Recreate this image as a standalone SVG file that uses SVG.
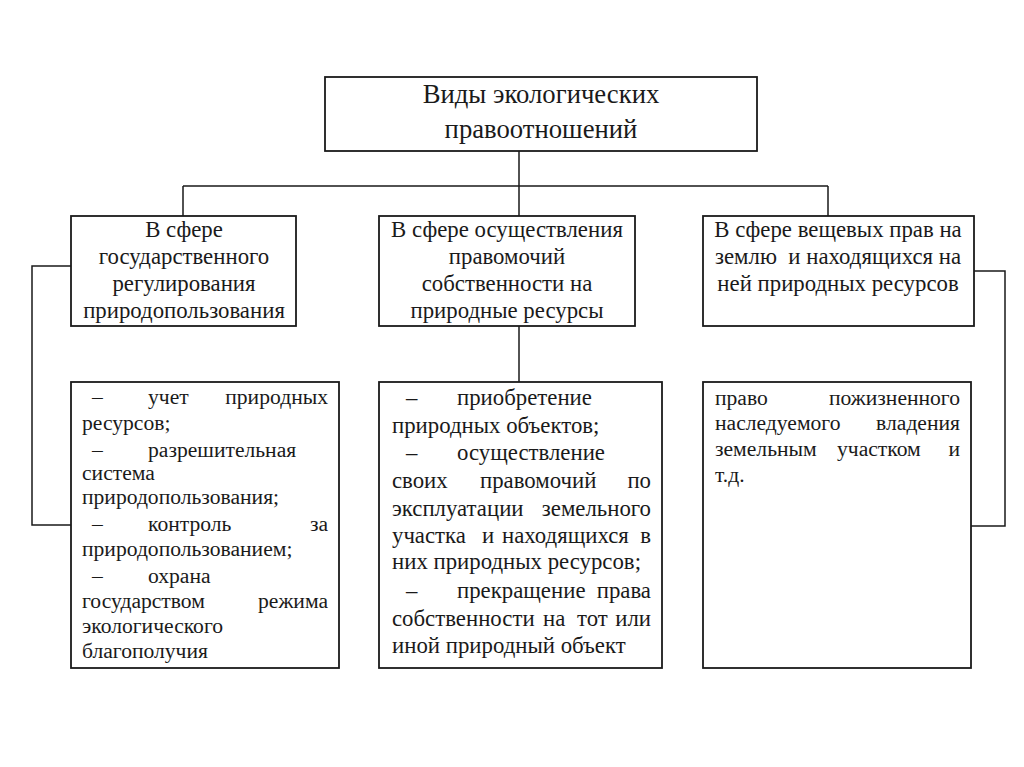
<svg xmlns="http://www.w3.org/2000/svg" width="1024" height="767" viewBox="0 0 1024 767">
<style>
.box{fill:#fff;stroke:#1a1a1a;stroke-width:1.8}
.con{fill:none;stroke:#1a1a1a;stroke-width:1.5}
text{font-family:"Liberation Serif","Times New Roman",serif;fill:#1a1a1a;font-size:22.8px}
.t{font-size:26.7px}
.s{font-size:21.6px}
.c{text-anchor:middle}
.e{text-anchor:end}
</style>
<rect width="1024" height="767" fill="#fff"/>
<g id="connectors">
<path class="con" d="M519 151V186M183 186H828M183 186V216M519 186V216M828 186V216"/>
<path class="con" d="M519 326V383"/>
<path class="con" d="M71 266H32V525H72"/>
<path class="con" d="M974 271H1005V526H971"/>
</g>
<g id="root">
<rect class="box" x="325" y="77" width="432" height="74"/>
<text class="t c" x="541" y="103">Виды экологических</text>
<text class="t c" x="541" y="138">правоотношений</text>
</g>
<g id="n1">
<rect class="box" x="71" y="216" width="225" height="110"/>
<text class="c" x="184" y="237">В сфере</text>
<text class="c" x="184" y="264">государственного</text>
<text class="c" x="184" y="291">регулирования</text>
<text class="c" x="184" y="318">природопользования</text>
</g>
<g id="n2">
<rect class="box" x="379" y="216" width="256" height="110"/>
<text class="c" x="507" y="237">В сфере осуществления</text>
<text class="c" x="507" y="264">правомочий</text>
<text class="c" x="507" y="291">собственности на</text>
<text class="c" x="507" y="318">природные ресурсы</text>
</g>
<g id="n3">
<rect class="box" x="703" y="216" width="271" height="110"/>
<text class="c" x="838" y="237">В сфере вещевых прав на</text>
<text class="c" x="838" y="264" xml:space="preserve">землю  и находящихся на</text>
<text class="c" x="838" y="291">ней природных ресурсов</text>
</g>
<g id="d1">
<rect class="box" x="71" y="382" width="268" height="286"/>
<text class="s" x="92" y="404">–</text><text class="s" x="148" y="404">учет</text><text class="s e" x="328" y="404">природных</text>
<text class="s" x="82" y="430">ресурсов;</text>
<text class="s" x="92" y="457">–</text><text class="s" x="148" y="457">разрешительная</text>
<text class="s" x="82" y="480">система</text>
<text class="s" x="82" y="504">природопользования;</text>
<text class="s" x="92" y="531">–</text><text class="s" x="148" y="531">контроль</text><text class="s e" x="328" y="531">за</text>
<text class="s" x="82" y="556">природопользованием;</text>
<text class="s" x="92" y="583">–</text><text class="s" x="148" y="583">охрана</text>
<text class="s" x="82" y="608">государством</text><text class="s e" x="328" y="608">режима</text>
<text class="s" x="82" y="633">экологического</text>
<text class="s" x="82" y="658">благополучия</text>
</g>
<g id="d2">
<rect class="box" x="379" y="382" width="283" height="286"/>
<text x="406" y="405">–</text><text x="457" y="405">приобретение</text>
<text x="392" y="433">природных объектов;</text>
<text x="406" y="460">–</text><text x="457" y="460">осуществление</text>
<text x="392" y="488">своих</text><text x="480" y="488">правомочий</text><text class="e" x="651" y="488">по</text>
<text x="392" y="516">эксплуатации</text><text class="e" x="651" y="516">земельного</text>
<text x="392" y="543">участка</text><text x="482" y="543">и</text><text x="502" y="543">находящихся</text><text class="e" x="651" y="543">в</text>
<text x="392" y="569">них природных ресурсов;</text>
<text x="406" y="598">–</text><text x="457" y="598">прекращение</text><text class="e" x="651" y="598">права</text>
<text x="392" y="626">собственности</text><text x="543" y="626">на</text><text x="577" y="626">тот</text><text class="e" x="651" y="626">или</text>
<text x="392" y="653">иной природный объект</text>
</g>
<g id="d3">
<rect class="box" x="703" y="382" width="268" height="286"/>
<text class="s" x="715" y="405">право</text><text class="s e" x="960" y="405">пожизненного</text>
<text class="s" x="715" y="430">наследуемого</text><text class="s e" x="960" y="430">владения</text>
<text class="s" x="715" y="456">земельным</text><text class="s" x="837" y="456">участком</text><text class="s e" x="960" y="456">и</text>
<text class="s" x="715" y="482">т.д.</text>
</g>
</svg>
